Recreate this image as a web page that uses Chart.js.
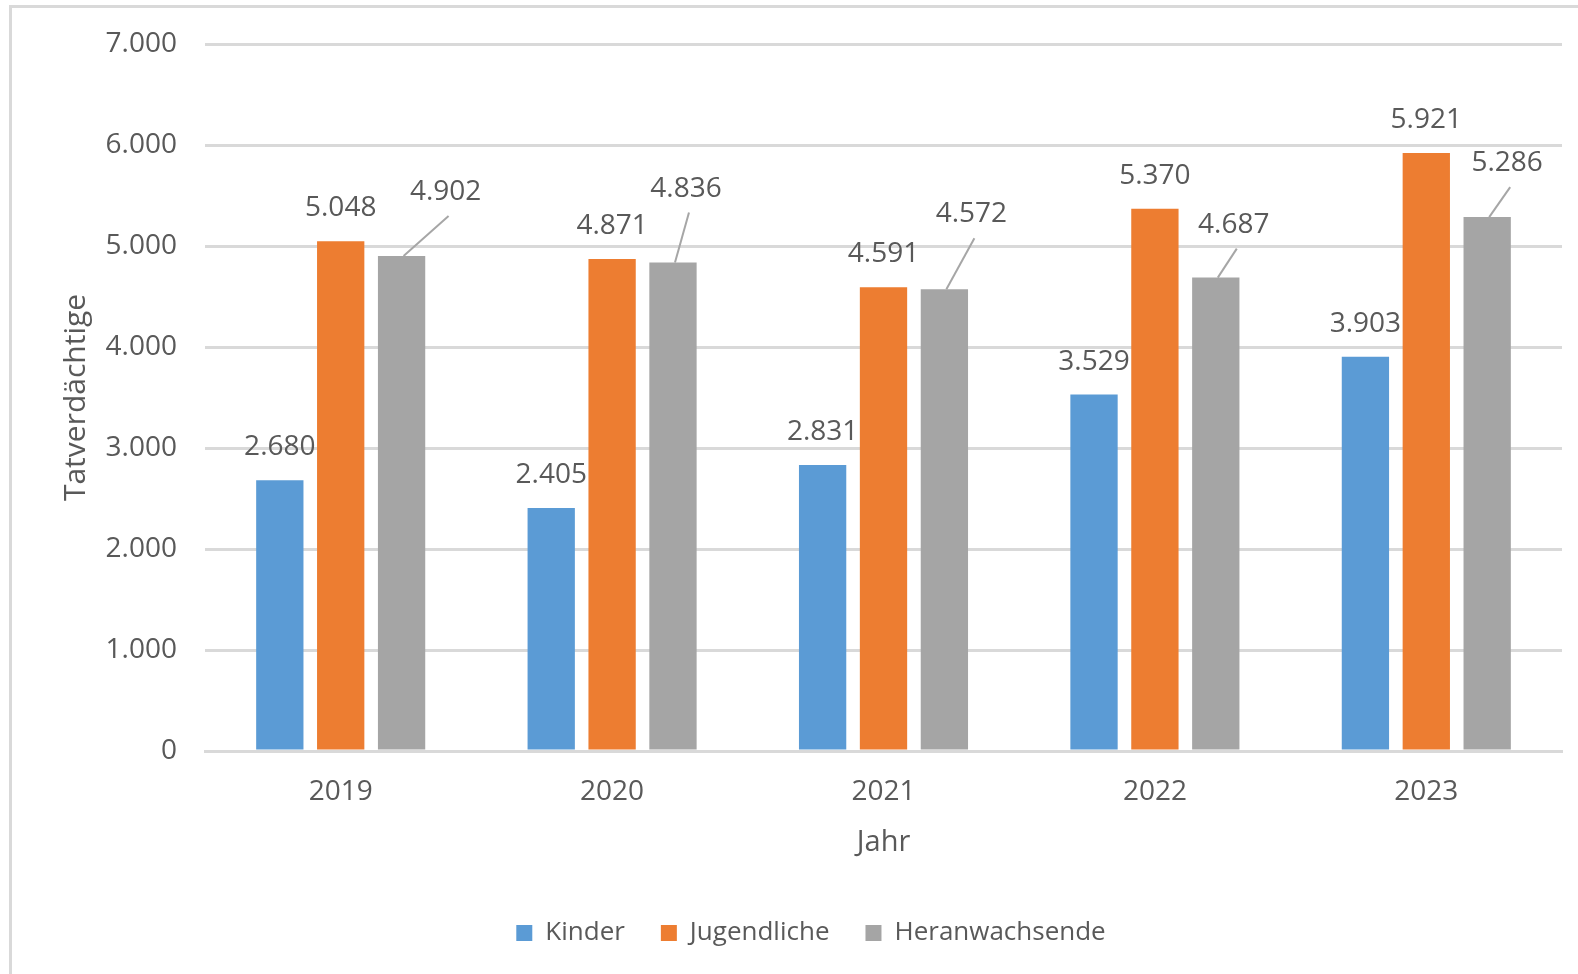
<!DOCTYPE html>
<html>
<head>
<meta charset="utf-8">
<script src="https://cdn.jsdelivr.net/npm/chart.js@4.4.1/dist/chart.umd.min.js"></script>
<style>
  html, body { margin: 0; padding: 0; background: #fff; overflow: hidden; }
  #frame {
    position: absolute; left: 9px; top: 5px;
    border-top: 3px solid #d9d9d9; border-left: 3px solid #d9d9d9;
  }
  canvas { display: block; }
</style>
</head>
<body>
<div id="frame"><canvas id="chart" width="1588" height="966"></canvas></div>
<script>
// ---------- Data ----------
const years = ["2019", "2020", "2021", "2022", "2023"];
const kinder = [2680, 2405, 2831, 3529, 3903];
const jugendliche = [5048, 4871, 4591, 5370, 5921];
const heranwachsende = [4902, 4836, 4572, 4687, 5286];

// label offsets for the gray series (they sit beside the bar, with a leader line)
const grayLabelShift = [[44, -64], [13, -74], [27, -75], [18, -53], [20, -54]];

const TEXT = "#595959";
const GRID = "#d9d9d9";

function fmtDE(n) {
  return String(Math.round(n)).replace(/\B(?=(\d{3})+(?!\d))/g, ".");
}

// ---------- Data labels ----------
const barLabels = {
  id: "barLabels",
  afterDatasetsDraw(chart) {
    const ctx = chart.ctx;
    ctx.save();
    ctx.font = "28px 'Open Sans'";
    ctx.fillStyle = TEXT;
    ctx.textAlign = "center";
    ctx.textBaseline = "middle";
    chart.data.datasets.forEach((ds, di) => {
      const meta = chart.getDatasetMeta(di);
      meta.data.forEach((bar, i) => {
        const txt = fmtDE(ds.data[i]);
        if (di === 2) {
          const [dx, dy] = grayLabelShift[i];
          const lx = bar.x + dx, ly = bar.y + dy;
          ctx.strokeStyle = "#a6a6a6";
          ctx.lineWidth = 2;
          ctx.beginPath();
          ctx.moveTo(bar.x + 2, bar.y);
          ctx.lineTo(lx + 3, ly + 24);
          ctx.stroke();
          ctx.fillText(txt, lx, ly);
        } else {
          ctx.fillText(txt, bar.x, bar.y - 33);
        }
      });
    });
    ctx.restore();
  }
};

// ---------- Chart ----------
new Chart(document.getElementById("chart"), {
  type: "bar",
  data: {
    labels: years,
    datasets: [
      { label: "Kinder", data: kinder, backgroundColor: "#5b9bd5" },
      { label: "Jugendliche", data: jugendliche, backgroundColor: "#ed7d31" },
      { label: "Heranwachsende", data: heranwachsende, backgroundColor: "#a5a5a5" }
    ]
  },
  options: {
    responsive: false,
    animation: false,
    events: [],
    categoryPercentage: 0.673,
    barPercentage: 0.777,
    layout: { padding: { top: 36, right: 38, bottom: 18, left: 48 } },
    plugins: {
      legend: {
        position: "bottom",
        labels: {
          color: TEXT,
          font: { family: "'Open Sans'", size: 26 },
          boxWidth: 16,
          boxHeight: 16,
          padding: 36
        }
      },
      tooltip: { enabled: false }
    },
    scales: {
      x: {
        afterFit: (s) => { s.height = 133; },
        grid: { display: false, drawTicks: false },
        border: { color: GRID, width: 3 },
        ticks: { color: TEXT, font: { family: "'Open Sans'", size: 28 }, padding: 24 },
        title: {
          display: true, text: "Jahr", color: TEXT,
          font: { family: "'Open Sans'", size: 29 },
          padding: { top: 0, bottom: 24 }
        }
      },
      y: {
        min: 0, max: 7000,
        afterFit: (s) => { s.width = 145; s.paddingTop = 0; s.paddingBottom = 0; },
        grid: { color: GRID, lineWidth: 3, drawTicks: false },
        border: { display: false },
        ticks: {
          stepSize: 1000, color: TEXT, padding: 28,
          font: { family: "'Open Sans'", size: 28 },
          callback: (v) => fmtDE(v)
        },
        title: {
          display: true, text: "Tatverdächtige", color: TEXT,
          font: { family: "'Open Sans'", size: 30 },
          padding: { top: -2, bottom: 0 }
        }
      }
    }
  },
  plugins: [barLabels]
});
</script>
</body>
</html>
